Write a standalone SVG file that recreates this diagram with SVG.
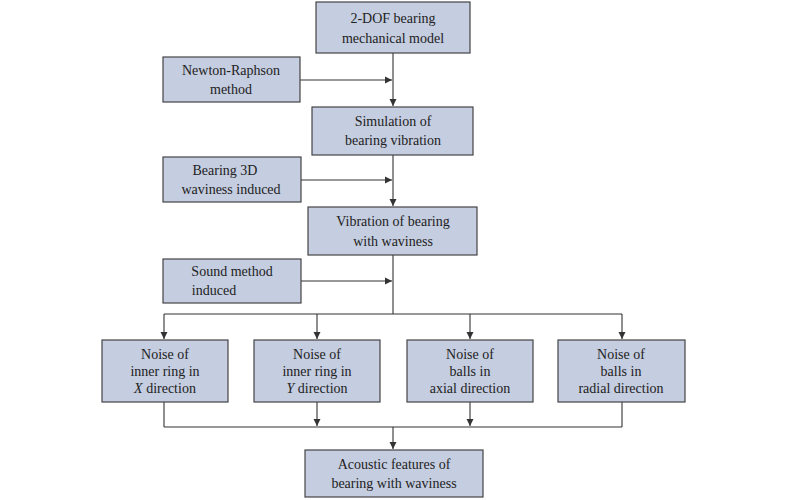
<svg xmlns="http://www.w3.org/2000/svg" width="786" height="500" viewBox="0 0 786 500">
<defs>
<marker id="a" markerWidth="8" markerHeight="8" refX="7" refY="4" orient="auto" markerUnits="userSpaceOnUse"><path d="M0,0.5 L7,4 L0,7.5 Z" fill="#333"/></marker>
<style>
rect{fill:#c5cde0;stroke:#444;stroke-width:1.2}
text{font-family:"Liberation Serif","Times New Roman",serif;font-size:14px;fill:#222;text-anchor:middle}
.c line,.c polyline{stroke:#333;stroke-width:1.1;fill:none}
</style>
</defs>
<rect x="0" y="0" width="786" height="500" style="fill:#fff;stroke:none"/>
<g class="c">
<line x1="393" y1="53" x2="393" y2="106" marker-end="url(#a)"/>
<line x1="300" y1="80" x2="392" y2="80" marker-end="url(#a)"/>
<line x1="393" y1="155" x2="393" y2="206" marker-end="url(#a)"/>
<line x1="301" y1="180" x2="392" y2="180" marker-end="url(#a)"/>
<line x1="393" y1="255" x2="393" y2="314"/>
<line x1="301" y1="281" x2="392" y2="281" marker-end="url(#a)"/>
<line x1="164" y1="314" x2="622" y2="314"/>
<line x1="164" y1="314" x2="164" y2="339" marker-end="url(#a)"/>
<line x1="317" y1="314" x2="317" y2="339" marker-end="url(#a)"/>
<line x1="470" y1="314" x2="470" y2="339" marker-end="url(#a)"/>
<line x1="622" y1="314" x2="622" y2="339" marker-end="url(#a)"/>
<line x1="164" y1="402" x2="164" y2="427"/>
<line x1="317" y1="402" x2="317" y2="426" marker-end="url(#a)"/>
<line x1="470" y1="402" x2="470" y2="426" marker-end="url(#a)"/>
<line x1="622" y1="402" x2="622" y2="427"/>
<line x1="164" y1="427" x2="622" y2="427"/>
<line x1="393" y1="427" x2="393" y2="449" marker-end="url(#a)"/>
</g>
<g id="n1"><rect x="316" y="2" width="154" height="51"/><text x="393" y="23">2-DOF bearing</text><text x="393" y="43">mechanical model</text></g>
<g id="n2"><rect x="163" y="57" width="137" height="45"/><text x="231" y="75">Newton-Raphson</text><text x="231" y="94">method</text></g>
<g id="n3"><rect x="312" y="107" width="161" height="48"/><text x="393" y="126">Simulation of</text><text x="393" y="145">bearing vibration</text></g>
<g id="n4"><rect x="163" y="157" width="138" height="45"/><text x="225" y="175">Bearing 3D</text><text x="231" y="194">waviness induced</text></g>
<g id="n5"><rect x="308" y="207" width="169" height="48"/><text x="393" y="226">Vibration of  bearing</text><text x="393" y="246">with waviness</text></g>
<g id="n6"><rect x="163" y="259" width="138" height="44"/><text x="232" y="276">Sound method</text><text x="214" y="295">induced</text></g>
<g id="n7"><rect x="102" y="340" width="126" height="62"/><text x="165" y="359">Noise of</text><text x="165" y="376">inner ring in</text><text x="165" y="393"><tspan font-style="italic">X</tspan> direction</text></g>
<g id="n8"><rect x="254" y="340" width="126" height="62"/><text x="317" y="359">Noise of</text><text x="317" y="376">inner ring in</text><text x="317" y="393"><tspan font-style="italic">Y</tspan> direction</text></g>
<g id="n9"><rect x="407" y="340" width="126" height="62"/><text x="470" y="359">Noise of</text><text x="470" y="376">balls in</text><text x="470" y="393">axial direction</text></g>
<g id="n10"><rect x="558" y="340" width="127" height="62"/><text x="621" y="359">Noise of</text><text x="621" y="376">balls in</text><text x="621" y="393">radial direction</text></g>
<g id="n11"><rect x="305" y="450" width="178" height="47"/><text x="394" y="469">Acoustic features of</text><text x="394" y="488">bearing with waviness</text></g>
</svg>
